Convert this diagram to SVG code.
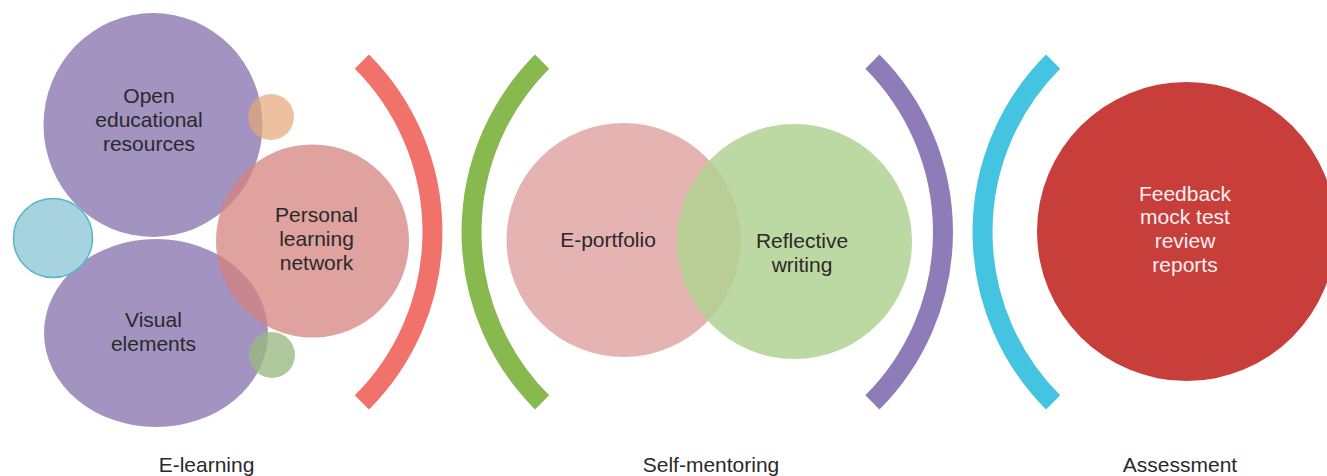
<svg xmlns="http://www.w3.org/2000/svg" width="1327" height="476" viewBox="0 0 1327 476">
  <style>
    text { font-family: "Liberation Sans", Arial, sans-serif; font-size: 21px; fill: #2a2a2a; text-anchor: middle; }
    .light { fill: #fbf0f0; }
    .bracket { fill: none; stroke-width: 20; stroke-linecap: butt; }
  </style>

  <rect width="1327" height="476" fill="#ffffff"/>

  <!-- E-learning cluster -->
  <g id="open-educational-resources">
    <ellipse cx="153" cy="125" rx="109.5" ry="112" fill="#a293c0"/>
    <text x="149" y="103">Open</text>
    <text x="149" y="127">educational</text>
    <text x="149" y="151">resources</text>
  </g>

  <g id="visual-elements">
    <ellipse cx="156" cy="333" rx="112" ry="94" fill="#a293c0"/>
  </g>

  <g id="dot-teal">
    <circle cx="53" cy="238" r="39.5" fill="#a7d3de" stroke="#52b9ca" stroke-width="1.5"/>
  </g>

  <g id="dot-orange">
    <circle cx="271" cy="117" r="23" fill="#e5a776" fill-opacity="0.7"/>
  </g>

  <g id="personal-learning-network">
    <circle cx="312.5" cy="241" r="96.5" fill="#d4837f" fill-opacity="0.75"/>
    <text x="316.5" y="222">Personal</text>
    <text x="316.5" y="246">learning</text>
    <text x="316.5" y="270">network</text>
  </g>

  <g id="dot-green">
    <circle cx="272" cy="355" r="23" fill="#98ba80" fill-opacity="0.78"/>
  </g>

  <g id="visual-elements-label">
    <text x="153.5" y="327">Visual</text>
    <text x="153.5" y="351">elements</text>
  </g>

  <!-- Self-mentoring pair -->
  <g id="e-portfolio">
    <circle cx="623.5" cy="240" r="117" fill="#e5b3b1"/>
    <text x="608" y="247">E-portfolio</text>
  </g>

  <g id="reflective-writing">
    <circle cx="794.5" cy="241.5" r="117.5" fill="#b1d293" fill-opacity="0.85"/>
    <text x="802" y="248">Reflective</text>
    <text x="802" y="272">writing</text>
  </g>

  <!-- Assessment -->
  <g id="assessment-items">
    <circle cx="1186.5" cy="231.5" r="149.5" fill="#c83e3b"/>
    <text class="light" x="1185" y="200.5">Feedback</text>
    <text class="light" x="1185" y="224.3">mock test</text>
    <text class="light" x="1185" y="248">review</text>
    <text class="light" x="1185" y="271.7">reports</text>
  </g>

  <!-- Bracket arcs separating the stages -->
  <g id="brackets">
    <path class="bracket" stroke="#f0726b" d="M 361.9 61.6 A 241 241 0 0 1 361.9 402.4"/>
    <path class="bracket" stroke="#88b94f" d="M 542.1 61.6 A 241 241 0 0 0 542.1 402.4"/>
    <path class="bracket" stroke="#8e7cb8" d="M 872.4 61.6 A 241 241 0 0 1 872.4 402.4"/>
    <path class="bracket" stroke="#44c4e0" d="M 1053.1 61.6 A 241 241 0 0 0 1053.1 402.4"/>
  </g>

  <!-- Stage captions -->
  <g id="captions">
    <text x="206.5" y="472">E-learning</text>
    <text x="711" y="472">Self-mentoring</text>
    <text x="1180" y="472">Assessment</text>
  </g>
</svg>
